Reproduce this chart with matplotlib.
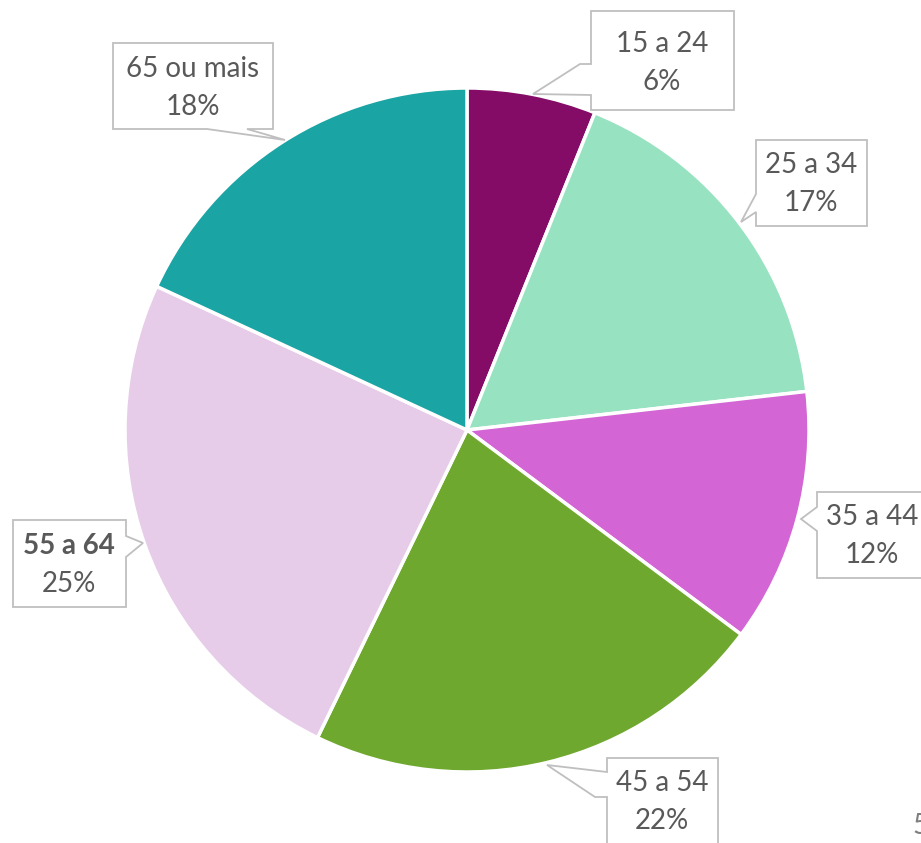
import matplotlib.pyplot as plt
from matplotlib.patches import Polygon

# -----------------------------
# Data
# -----------------------------
faixas = ["15 a 24", "25 a 34", "35 a 44", "45 a 54", "55 a 64", "65 ou mais"]
# slice shares; labels show them rounded
participacao = [6.1, 17.1, 12.0, 22.0, 24.7, 18.1]
rotulos_pct = [6, 17, 12, 22, 25, 18]
cores = ["#850C66", "#97E2C1", "#D465D4", "#6FA82F", "#E6CCE8", "#1BA4A4"]

W, H = 921, 843

# callout layout in pixel coords (y down): box, pointer vertices, text centre
callouts = [
    ((591, 11, 734, 110), [(591, 64), (580, 64), (533, 94), (591, 95)], "left", (662, 63)),
    ((756, 140, 867, 226), [(756, 194), (741, 222), (756, 212)], "left", (811, 184)),
    ((817, 492, 935, 578), [(817, 507), (801, 519), (817, 531)], "left", (872, 536)),
    ((607, 758, 718, 860), [(607, 772), (547, 765), (595, 797), (607, 797)], "left", (662, 802)),
    ((13, 520, 126, 607), [(126, 536), (143, 543), (126, 557)], "right", (69, 565)),
    ((113, 43, 273, 129), [(207, 129), (285, 140), (247, 129)], "bottom", (193, 88)),
]

fig = plt.figure(figsize=(W / 100, H / 100), dpi=100, facecolor="white")
ax = fig.add_axes([0, 0, 1, 1])

ax.pie(
    participacao,
    colors=cores,
    startangle=90,
    counterclock=False,
    center=(467, H - 430),
    radius=342,
    wedgeprops=dict(edgecolor="white", linewidth=2.5),
)
ax.set_xlim(0, W)
ax.set_ylim(0, H)
ax.set_aspect("equal")
ax.axis("off")


def flip(p):
    return (p[0], H - p[1])


for (box, ptr, side, (tx, ty)), faixa, pct in zip(callouts, faixas, rotulos_pct):
    x0, y0, x1, y1 = box
    if side == "left":
        verts = [(x0, y0), (x1, y0), (x1, y1), (x0, y1)] + ptr[::-1]
    elif side == "right":
        verts = [(x0, y0), (x1, y0)] + ptr + [(x1, y1), (x0, y1)]
    else:  # bottom
        verts = [(x0, y0), (x1, y0), (x1, y1)] + ptr[::-1] + [(x0, y1)]
    ax.add_patch(Polygon([flip(v) for v in verts], closed=True,
                         facecolor="white", edgecolor="#BFBFBF", linewidth=1.3,
                         zorder=3))
    peso = "bold" if faixa == "55 a 64" else "normal"
    ax.text(tx, H - (ty - 19), faixa, ha="center", va="center", fontsize=20,
            family="Lato", color="#595959", fontweight=peso, zorder=4)
    ax.text(tx, H - (ty + 19), f"{pct}%", ha="center", va="center", fontsize=20,
            family="Lato", color="#595959", zorder=4)

# slide number, cut off at the edge as in the original slide
ax.text(912, H - 826, "5", ha="left", va="center", fontsize=20,
        family="Lato", color="#7F7F7F")

fig.savefig("out.png", dpi=100, facecolor="white")
